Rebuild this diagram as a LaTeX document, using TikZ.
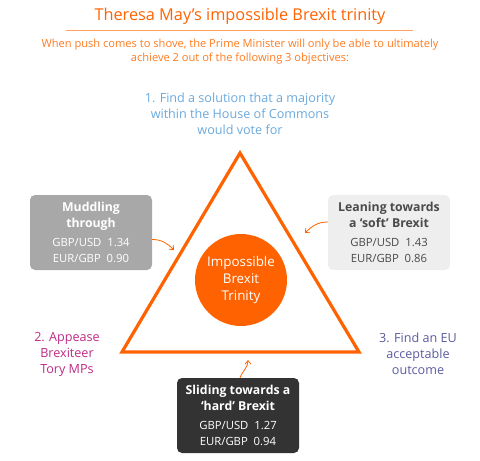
\documentclass[tikz,border=0pt]{standalone}
\usepackage{fontspec}
\setmainfont{Open Sans}
\usetikzlibrary{arrows.meta}
\definecolor{ingorange}{HTML}{FF6200}
\definecolor{suborange}{HTML}{FF7A1F}
\definecolor{lblblue}{HTML}{6AA9DD}
\definecolor{lblmag}{HTML}{BE2A86}
\definecolor{lblpurple}{HTML}{5A5AA0}
\definecolor{boxgray}{HTML}{A8A8A8}
\definecolor{boxlight}{HTML}{EEEEEE}
\definecolor{boxdark}{HTML}{333333}
\definecolor{darktext}{HTML}{4A4A4A}
\newcommand{\bhead}[1]{{\fontsize{12.3}{15}\selectfont\bfseries #1}}
\tikzset{
  scenario/.style={rounded corners=5pt, minimum width=122pt, minimum height=75pt,
    align=center, inner sep=0pt, font=\fontsize{11.3}{16}\selectfont},
  objective/.style={align=center, font=\fontsize{12.6}{16}\selectfont},
  pointer/.style={draw=ingorange, line width=0.8pt, -{Straight Barb[length=3.5pt,width=6pt]}},
}
\begin{document}
\begin{tikzpicture}[x=1pt,y=-1pt]
\useasboundingbox (0,0) rectangle (480,461);
% title
\node[text=ingorange, font=\fontsize{16.3}{20}\selectfont] (title) at (240,16) {Theresa May's impossible Brexit trinity};
\coordinate (ul1) at (66,30);
\coordinate (ul2) at (413,30);
\draw[suborange!70, line width=0.8pt] (ul1) -- (ul2);
\node[text=suborange, align=center, font=\fontsize{11.1}{13.5}\selectfont] (sub) at (240,51.5)
  {When push comes to shove, the Prime Minister will only be able to ultimately\\achieve 2 out of the following 3 objectives:};
% objectives
\node[objective, text=lblblue] (obj1) at (240,113.5) {1. Find a solution that a majority\\within the House of Commons\\would vote for};
\node[objective, text=lblmag] (obj2) at (67,354) {2. Appease\\Brexiteer\\Tory MPs};
\node[objective, text=lblpurple] (obj3) at (418,354) {3. Find an EU\\acceptable\\outcome};
% triangle
\coordinate (top) at (240,153);
\coordinate (bl) at (122,352);
\coordinate (br) at (359,352);
\draw[ingorange, line width=3.2pt, line join=miter] (top) -- (br) -- (bl) -- cycle;
% circle
\node[circle, fill=ingorange, minimum size=92pt, inner sep=0pt, text=white, align=center,
  font=\fontsize{13.4}{17}\selectfont] (core) at (241,280) {Impossible\\Brexit\\Trinity};
% scenario boxes
\node[scenario, fill=boxgray, text=white] (muddle) at (91,232.5)
  {\bhead{Muddling}\\\bhead{through}\\[3pt]GBP/USD\ \ 1.34\\EUR/GBP\ \ 0.90};
\node[scenario, fill=boxlight, text=darktext] (soft) at (389,232.5)
  {\bhead{Leaning towards}\\\bhead{a ‘soft’ Brexit}\\[3pt]GBP/USD\ \ 1.43\\EUR/GBP\ \ 0.86};
\node[scenario, fill=boxdark, text=white] (hard) at (238,415.5)
  {\bhead{Sliding towards a}\\\bhead{‘hard’ Brexit}\\[3pt]GBP/USD\ \ 1.27\\EUR/GBP\ \ 0.94};
% pointers
\coordinate (pm) at (174,250);
\coordinate (ps) at (305,233);
\coordinate (ph) at (248,360);
\draw[pointer] (muddle.east |- 0,239.5) to[out=0, in=135] (pm);
\draw[pointer] (soft.west |- 0,222) to[out=180, in=45] (ps);
\draw[pointer] (hard.north -| 240,0) to[out=70, in=-90] (ph);
\end{tikzpicture}
\end{document}
